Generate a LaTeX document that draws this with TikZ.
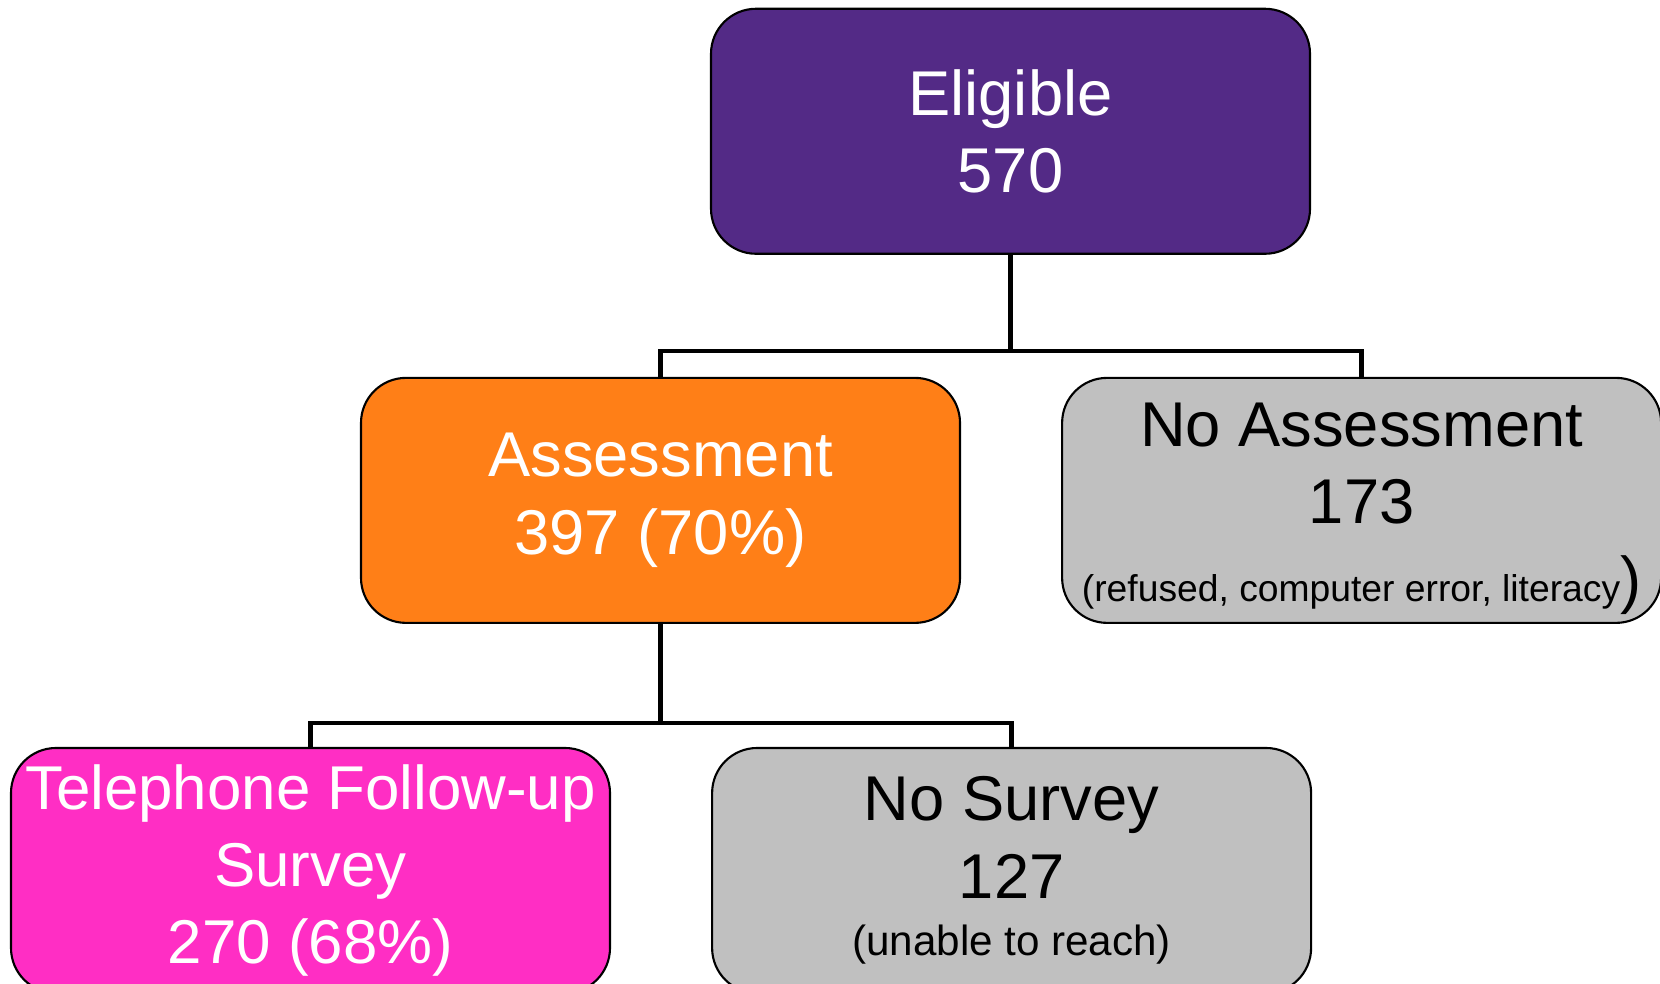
\documentclass[tikz,border=0pt]{standalone}
\usepackage{fontspec}
\setmainfont{Liberation Sans}
\usepackage{tikz}
\usetikzlibrary{positioning}
\definecolor{studypurple}{HTML}{532A86}
\definecolor{studyorange}{HTML}{FF7F17}
\definecolor{studypink}{HTML}{FF2EC4}
\definecolor{studygrey}{HTML}{C0C0C0}

\begin{document}
\begin{tikzpicture}[
  box/.style={draw=black,line width=0.6pt,rounded corners=4.5mm,
              minimum width=5.99cm,minimum height=2.45cm,align=center,
              font=\fontsize{18}{22}\selectfont,inner sep=0pt},
  lit/.style={box,text=white},
  dim/.style={box,fill=studygrey,text=black},
  tie/.style={line width=1.3pt,black}]
  \useasboundingbox (0,0) rectangle (16.6,-9.83);
  \node[lit,fill=studypurple] (elig) at (10.105,-1.3125) {Eligible\\570};
  \node[lit,fill=studyorange,below=1.22cm of elig,xshift=-3.5cm] (assess)
       {Assessment\\397 (70\%)};
  \node[dim,right=1cm of assess] (noassess)
       {\rule{0pt}{0.6cm}No Assessment\\173\\{\fontsize{10.6}{13}\selectfont (refused, computer error, literacy})};
  \node[lit,fill=studypink,below=1.23cm of assess,xshift=-3.5cm,
        font=\fontsize{17.6}{22}\selectfont] (phone)
       {Telephone Follow-up\\Survey\\270 (68\%)};
  \node[dim,right=1cm of phone] (nosurvey)
       {No Survey\\127\\[-0.2cm]{\fontsize{12}{14}\selectfont (unable to reach)}};
  \draw[tie] (elig.south) -- ++(0,-0.96) -| (assess.north);
  \draw[tie] (elig.south) -- ++(0,-0.96) -| (noassess.north);
  \draw[tie] (assess.south) -- ++(0,-0.99) -| (phone.north);
  \draw[tie] (assess.south) -- ++(0,-0.99) -| (nosurvey.north);
\end{tikzpicture}
\end{document}
